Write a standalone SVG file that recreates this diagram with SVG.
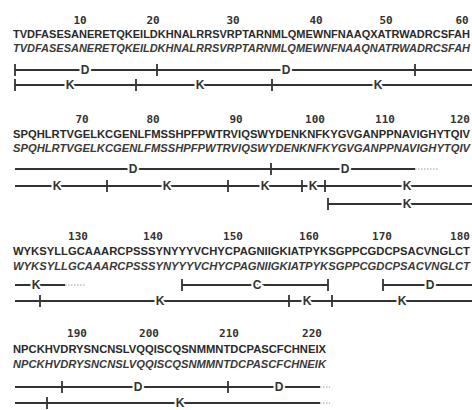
<svg xmlns="http://www.w3.org/2000/svg" width="472" height="410" viewBox="0 0 472 410">
<style>
.num{font-family:"DejaVu Sans Mono",monospace;font-size:11px;font-weight:bold;fill:#333;text-anchor:middle}
.s1{font-family:"Liberation Sans",Arial,sans-serif;font-size:11px;font-weight:bold;fill:#2a2a2a}
.s2{font-family:"Liberation Sans",Arial,sans-serif;font-size:11px;font-style:italic;font-weight:bold;fill:#3a3a3a}
.ln{stroke:#333;stroke-width:1.8;fill:none}
.dot{stroke:#999;stroke-width:1.2;stroke-dasharray:1.5 1.5;fill:none}
.lab{font-family:"Liberation Sans",Arial,sans-serif;font-size:12px;font-weight:bold;fill:#333;text-anchor:middle;stroke:#fff;stroke-width:4;paint-order:stroke}
</style>
<rect width="472" height="410" fill="#fff"/>
<g id="block1">
<text class="num" x="80" y="24">10</text><text class="num" x="153" y="24">20</text><text class="num" x="233" y="24">30</text><text class="num" x="316" y="24">40</text><text class="num" x="386" y="24">50</text><text class="num" x="462" y="24">60</text>
<text class="s1" x="13" y="38" textLength="457" lengthAdjust="spacingAndGlyphs">TVDFASESANERETQKEILDKHNALRRSVRPTARNMLQMEWNFNAAQXATRWADRCSFAH</text>
<text class="s2" x="13" y="52" textLength="457" lengthAdjust="spacingAndGlyphs">TVDFASESANERETQKEILDKHNALRRSVRPTARNMLQMEWNFNAAQNATRWADRCSFAH</text>
</g>
<g id="block2">
<text class="num" x="82" y="123">70</text><text class="num" x="153" y="123">80</text><text class="num" x="236" y="123">90</text><text class="num" x="315" y="123">100</text><text class="num" x="385" y="123">110</text><text class="num" x="460" y="123">120</text>
<text class="s1" x="13" y="138" textLength="457" lengthAdjust="spacingAndGlyphs">SPQHLRTVGELKCGENLFMSSHPFPWTRVIQSWYDENKNFKYGVGANPPNAVIGHYTQIV</text>
<text class="s2" x="13" y="152" textLength="457" lengthAdjust="spacingAndGlyphs">SPQHLRTVGELKCGENLFMSSHPFPWTRVIQSWYDENKNFKYGVGANPPNAVIGHYTQIV</text>
</g>
<g id="block3">
<text class="num" x="78" y="240">130</text><text class="num" x="153" y="240">140</text><text class="num" x="233" y="240">150</text><text class="num" x="309" y="240">160</text><text class="num" x="382" y="240">170</text><text class="num" x="460" y="240">180</text>
<text class="s1" x="13" y="255" textLength="457" lengthAdjust="spacingAndGlyphs">WYKSYLLGCAAARCPSSSYNYYYVCHYCPAGNIIGKIATPYKSGPPCGDCPSACVNGLCT</text>
<text class="s2" x="13" y="270" textLength="457" lengthAdjust="spacingAndGlyphs">WYKSYLLGCAAARCPSSSYNYYYVCHYCPAGNIIGKIATPYKSGPPCGDCPSACVNGLCT</text>
</g>
<g id="block4">
<text class="num" x="77" y="337">190</text><text class="num" x="149" y="337">200</text><text class="num" x="229" y="337">210</text><text class="num" x="312" y="337">220</text>
<text class="s1" x="13" y="353" textLength="313" lengthAdjust="spacingAndGlyphs">NPCKHVDRYSNCNSLVQQISCQSNMMNTDCPASCFCHNEIX</text>
<text class="s2" x="13" y="368" textLength="313" lengthAdjust="spacingAndGlyphs">NPCKHVDRYSNCNSLVQQISCQSNMMNTDCPASCFCHNEIK</text>
</g>
<g id="connectors">
<path class="ln" d="M15 70H472M15 64v12M157 64v12M415 64v12"/>
<path class="ln" d="M15 85H472M15 79v12M136 79v12M272 79v12"/>
<path class="ln" d="M15 169H415M271 163v12"/><path class="dot" d="M415 169H438"/>
<path class="ln" d="M15 186H472M107 180v12M228 180v12M302 180v12M325 180v12"/>
<path class="ln" d="M328 204H472M328 198v12"/>
<path class="ln" d="M15 285H65"/><path class="dot" d="M65 285H85"/>
<path class="ln" d="M182 285H328M182 279v12M328 279v12"/>
<path class="ln" d="M383 285H472M383 279v12"/>
<path class="ln" d="M15 301H472M40 295v12M289 295v12M332 295v12"/>
<path class="ln" d="M15 387H320M62 381v12M228 381v12"/><path class="dot" d="M320 387H330"/>
<path class="ln" d="M15 403H320M47 397v12"/><path class="dot" d="M320 403H330"/>
</g>
<g id="labels">
<text class="lab" x="85" y="74">D</text><text class="lab" x="286" y="74">D</text>
<text class="lab" x="70" y="89">K</text><text class="lab" x="200" y="89">K</text><text class="lab" x="378" y="89">K</text>
<text class="lab" x="133" y="173">D</text><text class="lab" x="345" y="173">D</text>
<text class="lab" x="57" y="190">K</text><text class="lab" x="167" y="190">K</text><text class="lab" x="265" y="190">K</text><text class="lab" x="313" y="190">K</text><text class="lab" x="407" y="190">K</text>
<text class="lab" x="407" y="208">K</text>
<text class="lab" x="36" y="289">K</text><text class="lab" x="257" y="289">C</text><text class="lab" x="430" y="289">D</text>
<text class="lab" x="160" y="305">K</text><text class="lab" x="307" y="305">K</text><text class="lab" x="402" y="305">K</text>
<text class="lab" x="138" y="391">D</text><text class="lab" x="279" y="391">D</text>
<text class="lab" x="180" y="407">K</text>
</g>
</svg>
